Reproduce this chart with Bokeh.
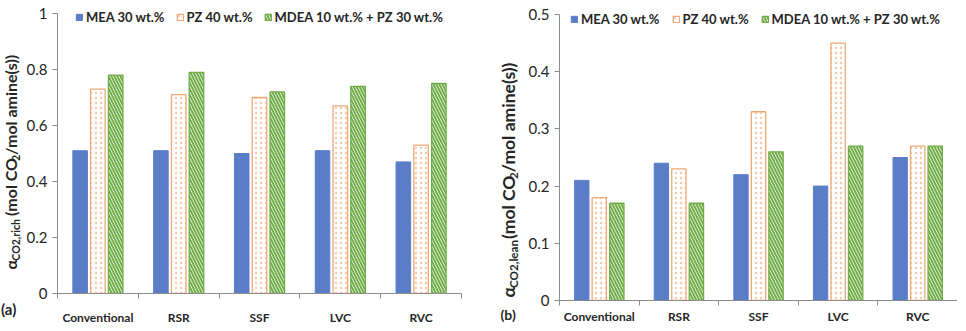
import numpy as np
from bokeh.plotting import figure
from bokeh.models import Range1d, FixedTicker, Legend, LegendItem, Label
from bokeh.layouts import row
from bokeh.embed import file_html
from bokeh.resources import INLINE

categories = ["Conventional", "RSR", "SSF", "LVC", "RVC"]
series = ["MEA 30 wt.%", "PZ 40 wt.%", "MDEA 10 wt.% + PZ 30 wt.%"]
rich_mea = [0.51, 0.51, 0.50, 0.51, 0.47]
rich_pz = [0.73, 0.71, 0.70, 0.67, 0.53]
rich_mdea = [0.78, 0.79, 0.72, 0.74, 0.75]
lean_mea = [0.21, 0.24, 0.22, 0.20, 0.25]
lean_pz = [0.18, 0.23, 0.33, 0.45, 0.27]
lean_mdea = [0.17, 0.17, 0.26, 0.27, 0.27]
rich_ticks = [0, 0.2, 0.4, 0.6, 0.8, 1]
lean_ticks = [0, 0.1, 0.2, 0.3, 0.4, 0.5]

FONT = "Lato"
BLUE = "#5B7DC8"
ORANGE = "#F0A878"
GREEN = "#70AD47"
AXIS = "#8C8C8C"
TXT = "#262626"
H = 323


def chart(vals, yticks, fl, ft, fw, fh, top_extra, fr, leg_x, leg_top, leg_spacing, cat_standoff):
    ymax = yticks[-1]
    yend = ymax * fh / (fh - top_extra)
    p = figure(frame_width=fw, frame_height=fh, output_backend="svg", toolbar_location=None,
               x_range=Range1d(0, len(categories)), y_range=Range1d(0, yend),
               min_border_left=fl, min_border_top=ft, min_border_right=fr,
               min_border_bottom=H - ft - fh)
    p.outline_line_color = None
    p.xgrid.visible = False
    p.ygrid.visible = False
    p.background_fill_color = None
    p.border_fill_color = None

    xc = np.arange(len(categories)) + 0.5
    offs = [-0.22, 0.0, 0.22]
    bw = 0.18
    r1 = p.vbar(x=xc + offs[0], top=vals[0], width=bw, fill_color=BLUE, line_color=BLUE, line_width=1)
    r2 = p.vbar(x=xc + offs[1], top=vals[1], width=bw, fill_color="white", line_color=ORANGE, line_width=1.3,
                hatch_pattern="dot", hatch_color=ORANGE, hatch_scale=5, hatch_weight=1, hatch_alpha=0.6)
    r3 = p.vbar(x=xc + offs[2], top=vals[2], width=bw, fill_color="white", line_color=GREEN, line_width=1.3,
                hatch_pattern="\\", hatch_color=GREEN, hatch_scale=6, hatch_weight=2)

    xa = p.xaxis[0]
    xa.ticker = FixedTicker(ticks=list(xc), minor_ticks=list(range(len(categories) + 1)))
    xa.major_label_overrides = {float(x): c for x, c in zip(xc, categories)}
    xa.major_tick_out = 0
    xa.major_tick_in = 0
    xa.minor_tick_out = 5
    xa.minor_tick_in = 0
    xa.minor_tick_line_color = AXIS
    xa.axis_line_color = AXIS
    xa.major_label_text_font = FONT
    xa.major_label_text_font_style = "bold"
    xa.major_label_text_font_size = "12px"
    xa.major_label_text_color = TXT
    xa.major_label_standoff = cat_standoff

    ya = p.yaxis[0]
    ya.ticker = FixedTicker(ticks=yticks)
    ya.bounds = (0, ymax)
    ya.major_label_overrides = {t: f"{t:g}" for t in yticks}
    ya.major_tick_out = 5
    ya.major_tick_in = 0
    ya.minor_tick_out = 0
    ya.minor_tick_in = 0
    ya.major_tick_line_color = AXIS
    ya.axis_line_color = AXIS
    ya.major_label_text_font = FONT
    ya.major_label_text_font_size = "15px"
    ya.major_label_text_color = TXT
    ya.major_label_standoff = 5

    items = [LegendItem(label=s, renderers=[r]) for s, r in zip(series, [r1, r2, r3])]
    lh = 16
    leg = Legend(items=items, orientation="horizontal", location=(leg_x, fh - leg_top - lh),
                 glyph_width=8, glyph_height=8, label_standoff=3, spacing=leg_spacing, padding=0, margin=0,
                 label_text_font=FONT, label_text_font_style="bold", label_text_font_size="13px",
                 label_text_color=TXT, label_height=lh, background_fill_alpha=0, border_line_alpha=0)
    p.add_layout(leg, "center")
    return p


def label_fig(width, sub, cx, bottom, size, tag, tag_x, tag_y, tag_size):
    f = figure(frame_width=width, frame_height=H, output_backend="svg", toolbar_location=None,
               x_range=Range1d(0, width), y_range=Range1d(H, 0),
               x_axis_type=None, y_axis_type=None, min_border=0)
    f.outline_line_color = None
    f.xgrid.visible = False
    f.ygrid.visible = False
    f.background_fill_color = None
    f.border_fill_color = None
    small = size * 0.66
    # (text, font size, shift toward baseline, em width, gap before in em)
    segs = [("α", size, 0, 0.55, 0.0),
            (sub, small, 5, 3.9, 0.0),
            ("(mol CO", size, 0, 3.43, 0.22),
            ("2", small, 5, 0.58, 0.0),
            ("/mol amine(s))", size, 0, 5.93, 0.0)]
    pos = 0.0
    for txt, sz, shift, em, gap in segs:
        pos += gap * size
        f.add_layout(Label(x=cx + shift, y=bottom, y_offset=pos, text=txt,
                           angle=np.pi / 2, text_font=FONT, text_font_style="bold",
                           text_font_size=f"{sz:.1f}px", text_color=TXT,
                           text_align="left", text_baseline="middle"))
        pos += sz * em
    f.add_layout(Label(x=tag_x, y=tag_y, text=tag, text_font=FONT, text_font_style="bold",
                       text_font_size=f"{tag_size}px", text_color=TXT, text_align="left",
                       text_baseline="middle"))
    return f


la = label_fig(23, "CO2,rich", cx=10, bottom=263, size=16, tag="(a)", tag_x=0.5, tag_y=302, tag_size=15)
pa = chart([rich_mea, rich_pz, rich_mdea], rich_ticks, fl=33, ft=4, fw=404, fh=287, top_extra=7,
           fr=12, leg_x=18, leg_top=3, leg_spacing=11, cat_standoff=11)
lb = label_fig(50, "CO2,lean", cx=35, bottom=291, size=17.5, tag="(b)", tag_x=27, tag_y=308, tag_size=14)
pb = chart([lean_mea, lean_pz, lean_mdea], lean_ticks, fl=36, ft=6, fw=398, fh=294, top_extra=8,
           fr=0, leg_x=11, leg_top=5, leg_spacing=12, cat_standoff=3)

layout = row(la, pa, lb, pb, spacing=0)
open("out.html", "w").write(file_html(layout, INLINE))
